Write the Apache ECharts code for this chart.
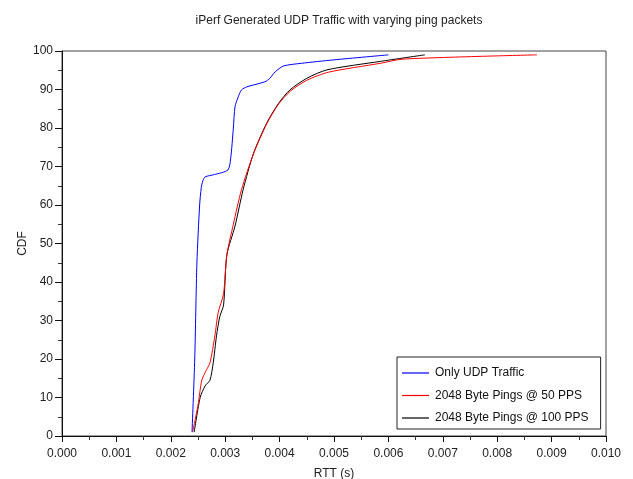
<!DOCTYPE html>
<html>
<head>
<meta charset="utf-8">
<script src="https://cdn.jsdelivr.net/npm/echarts@6/dist/echarts.min.js"></script>
<style>
  html, body { margin: 0; padding: 0; background: #fff; }
  #chart { width: 633px; height: 479px; }
</style>
</head>
<body>
<div id="chart"></div>
<script>
// RTT (seconds) vs cumulative percentage for each traffic scenario
const seriesNames = ['Only UDP Traffic', '2048 Byte Pings @ 50 PPS', '2048 Byte Pings @ 100 PPS'];
const seriesColors = ['#0000ff', '#ff0000', '#000000'];

const udpOnlyRtt = [0.00239, 0.00244, 0.00248, 0.00253, 0.00256, 0.00259, 0.00263, 0.00280, 0.00305, 0.00310, 0.00315, 0.00318, 0.00324, 0.00330, 0.00340, 0.00373, 0.00382, 0.00392, 0.00407, 0.00440, 0.00500, 0.00600];
const udpOnlyCdf = [1, 20, 45, 60, 64.5, 66.3, 67.3, 67.9, 69.1, 72, 80, 85.5, 88.1, 89.9, 90.7, 92.0, 92.9, 94.6, 96.1, 96.8, 97.7, 99.0];

const ping50Rtt = [0.00240, 0.00250, 0.00257, 0.00265, 0.00272, 0.00281, 0.00287, 0.00297, 0.00303, 0.00315, 0.00330, 0.00352, 0.00376, 0.00398, 0.00420, 0.00450, 0.00490, 0.00585, 0.00627, 0.00873];
const ping50Cdf = [1, 8, 14.5, 17, 19, 26, 32, 37, 47, 55, 64, 73.3, 81, 86.2, 89.6, 92.4, 94.5, 96.8, 97.9, 99.0];

const ping100Rtt = [0.00243, 0.00254, 0.00263, 0.00272, 0.00278, 0.00284, 0.00290, 0.00297, 0.00303, 0.00318, 0.00333, 0.00352, 0.00376, 0.00398, 0.00419, 0.00450, 0.00487, 0.00585, 0.00667];
const ping100Cdf = [1, 10, 13, 14.5, 19, 26, 31, 34, 47, 54.5, 64, 73.4, 81.2, 86.4, 89.9, 92.9, 95.1, 97.3, 99.0];

const xTickMin = 0, xTickMax = 0.010, xTickStep = 0.001;
const yTickMin = 0, yTickMax = 100, yTickStep = 10;

function pairs(xs, ys) { return xs.map((x, i) => [x, ys[i]]); }
const allData = [pairs(udpOnlyRtt, udpOnlyCdf), pairs(ping50Rtt, ping50Cdf), pairs(ping100Rtt, ping100Cdf)];

const font = 'Liberation Sans, Arial, sans-serif';
const chart = echarts.init(document.getElementById('chart'));
chart.setOption({
  animation: false,
  backgroundColor: '#fff',
  title: {
    text: 'iPerf Generated UDP Traffic with varying ping packets',
    left: 334, top: 10, textAlign: 'center',
    textStyle: { fontFamily: font, fontSize: 12, fontWeight: 'normal', color: '#222' }
  },
  grid: {
    left: 62, right: 27, top: 51, bottom: 43,
    outerBoundsMode: 'none', containLabel: false,
    show: true, borderColor: '#444', borderWidth: 1, backgroundColor: 'transparent'
  },
  legend: {
    orient: 'vertical', left: 397, top: 357,
    data: seriesNames,
    icon: 'rect',
    itemWidth: 27, itemHeight: 1.2, itemGap: 8.5,
    padding: [9, 12, 4, 5],
    borderColor: '#222', borderWidth: 1, backgroundColor: '#fff',
    textStyle: { fontFamily: font, fontSize: 12, lineHeight: 14, color: '#111', padding: [0, 0, 0, 1] }
  },
  xAxis: {
    type: 'value', min: xTickMin, max: xTickMax, interval: xTickStep,
    name: 'RTT (s)', nameLocation: 'middle', nameGap: 32, nameMoveOverlap: false,
    nameTextStyle: { fontFamily: font, fontSize: 12, color: '#222' },
    axisLine: { show: true, lineStyle: { color: '#111', width: 1 } },
    axisTick: { show: true, inside: false, length: 6, lineStyle: { color: '#111' } },
    minorTick: { show: true, splitNumber: 2, length: 4, lineStyle: { color: '#333' } },
    splitLine: { show: false },
    axisLabel: { fontFamily: font, fontSize: 12, color: '#222', margin: 12, formatter: v => v.toFixed(3) }
  },
  yAxis: {
    type: 'value', min: yTickMin, max: yTickMax, interval: yTickStep,
    name: 'CDF', nameLocation: 'middle', nameGap: 33, nameMoveOverlap: false,
    nameTextStyle: { fontFamily: font, fontSize: 12, color: '#222' },
    axisLine: { show: true, lineStyle: { color: '#111', width: 1 } },
    axisTick: { show: true, inside: false, length: 7, lineStyle: { color: '#111' } },
    minorTick: { show: true, splitNumber: 2, length: 4, lineStyle: { color: '#333' } },
    splitLine: { show: false },
    axisLabel: { fontFamily: font, fontSize: 12, color: '#222', margin: 9 }
  },
  series: seriesNames.map((name, i) => ({
    name, type: 'line', data: allData[i],
    symbol: 'none', smooth: 0.25,
    lineStyle: { color: seriesColors[i], width: 1 },
    itemStyle: { color: seriesColors[i] },
    z: 3 - i
  }))
});
</script>
</body>
</html>
